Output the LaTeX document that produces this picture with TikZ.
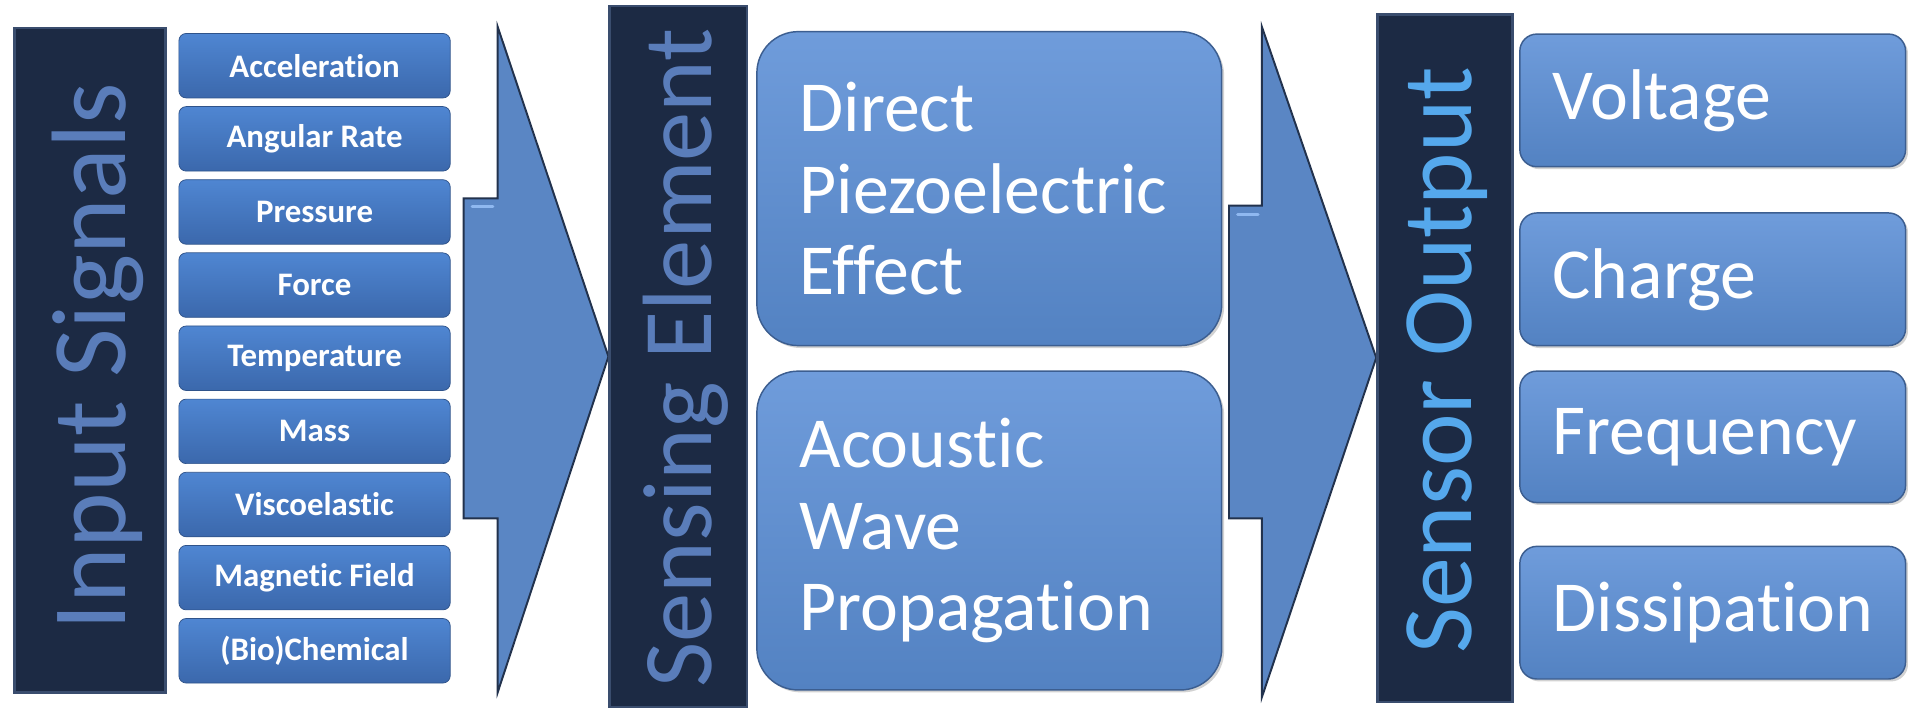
\documentclass[tikz,border=0pt]{standalone}
\usepackage{fontspec}
\setmainfont{Carlito}[Ligatures={NoCommon,NoContextual}]
\usetikzlibrary{shadows}
\definecolor{navy}{HTML}{1C2A44}
\definecolor{navyedge}{HTML}{3A4D6E}
\definecolor{labdim}{HTML}{5A7DBA}
\definecolor{labbright}{HTML}{55A8EC}
\definecolor{sbtop}{HTML}{4F86D2}
\definecolor{sbbot}{HTML}{3B68AC}
\definecolor{bbtop}{HTML}{6F9CDB}
\definecolor{bbbot}{HTML}{5382C2}
\definecolor{bbedge}{HTML}{3C5E90}
\definecolor{arrowfill}{HTML}{5A86C4}
\definecolor{arrowedge}{HTML}{22324D}
\definecolor{shine}{HTML}{8FB8F0}
\begin{document}
\begin{tikzpicture}[x=1pt,y=-1pt,
  darkbar/.style={draw=navyedge, line width=2pt, fill=navy, inner sep=0pt},
  vlabel/.style={rotate=90, anchor=base, inner sep=0pt},
  smallbox/.style={rounded corners=6pt, top color=sbtop, bottom color=sbbot, draw=sbbot!80!black, line width=0.6pt,
    minimum width=223pt, minimum height=53pt, inner sep=0pt, text=white,
    font=\fontsize{27}{30}\selectfont\bfseries},
  bigbox/.style={rounded corners=34pt, top color=bbtop, bottom color=bbbot, draw=bbedge, line width=1.2pt,
    drop shadow={shadow xshift=2pt, shadow yshift=-2pt, opacity=0.35},
    inner xsep=35pt, text width=312pt, align=left, minimum height=258pt, text=white,
    font=\fontsize{59}{67}\selectfont},
  outbox/.style={rounded corners=14pt, top color=bbtop, bottom color=bbbot, draw=bbedge, line width=1.2pt,
    drop shadow={shadow xshift=2pt, shadow yshift=-2pt, opacity=0.35},
    inner xsep=27pt, text width=263pt, align=left, minimum height=109pt, text=white,
    font=\fontsize{59}{67}\selectfont},
  blockarrow/.style={fill=arrowfill, draw=arrowedge, line width=1.6pt, line join=miter},
  shineline/.style={draw=shine, line width=2.5pt, line cap=round}
]
\useasboundingbox[fill=white] (0,0) rectangle (1568,583);

% ---- Input signals
\node[darkbar, minimum width=124pt, minimum height=546pt] (insig) at (74,296) {};
\node[vlabel, text=labdim, font=\fontsize{87}{87}\selectfont] (insigtxt) at (103,293) {Input Signals};

\foreach \t [count=\i from 0] in {Acceleration, Angular Rate, Pressure, Force, Temperature, Mass, Viscoelastic, Magnetic Field, (Bio)Chemical}{
  \node[smallbox] (in\i) at (258.5, 54+60.1*\i) {\t};
}

% ---- arrow 1
\draw[blockarrow] (381,163) -- (409,163) -- (409,22) -- (500,293) -- (409,569) -- (409,426) -- (381,426) -- cycle;
\draw[shineline] (388,170) -- (405,170);

% ---- Sensing element
\node[darkbar, minimum width=113pt, minimum height=576pt] (sens) at (557.5,293) {};
\node[vlabel, text=labdim, font=\fontsize{81}{81}\selectfont] (senstxt) at (585,294) {Sensing Element};

\node[bigbox] (dpe) at (813,155) {Direct\\Piezoelectric\\Effect};
\node[bigbox, minimum height=262pt] (awp) at (813,436) {Acoustic\\Wave\\Propagation};

% ---- arrow 2
\draw[blockarrow] (1010,169) -- (1037,169) -- (1037,22) -- (1131,294) -- (1037,573) -- (1037,426) -- (1010,426) -- cycle;
\draw[shineline] (1017,176) -- (1034,176);

% ---- Sensor output
\node[darkbar, minimum width=111pt, minimum height=565pt] (outp) at (1187.5,294.5) {};
\node[vlabel, text=labbright, font=\fontsize{82}{82}\selectfont] (outptxt) at (1209,296) {Sensor Output};

\node[outbox] (volt) at (1407.5,82.5) {Voltage};
\node[outbox] (charge) at (1407.5,229.5) {Charge};
\node[outbox, minimum height=108pt] (freq) at (1407.5,359) {Frequency};
\node[outbox] (diss) at (1407.5,503.5) {Dissipation};
\end{tikzpicture}
\end{document}
